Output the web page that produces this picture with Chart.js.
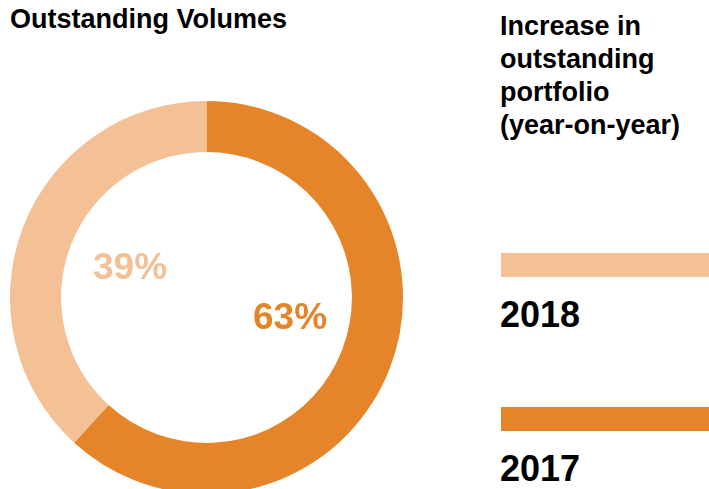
<!DOCTYPE html>
<html>
<head>
<meta charset="utf-8">
<script src="https://cdn.jsdelivr.net/npm/chart.js@4/dist/chart.umd.min.js"></script>
<style>
  html, body { margin: 0; padding: 0; background: #fff; }
  body { width: 709px; height: 489px; overflow: hidden; position: relative;
         font-family: "Liberation Sans", Arial, Helvetica, sans-serif; font-weight: bold; color: #000; }
  #title { position: absolute; left: 10px; top: 4px; font-size: 27px; line-height: 30px; white-space: nowrap; }
  #side-title { position: absolute; left: 500px; top: 10px; font-size: 27px; line-height: 33px; white-space: nowrap; }
  #donut { position: absolute; left: 10px; top: 101px; }
  .swatch { position: absolute; left: 501px; width: 208px; height: 24px; }
  .year { position: absolute; left: 500px; font-size: 36px; line-height: 40px; }
</style>
</head>
<body>
<div id="title">Outstanding Volumes</div>
<div id="side-title">Increase in<br>outstanding<br>portfolio<br>(year-on-year)</div>
<canvas id="donut" width="393" height="393"></canvas>
<div id="legend"></div>

<script>
// data
var years = ['2017', '2018'];
var shares = [63, 39];
var colors = ['#E58428', '#F3C195'];

// legend order top to bottom
var legendOrder = [1, 0];
var legendTops = [253, 407];

// draw the legend (bar + year) from the arrays
var legend = document.getElementById('legend');
legendOrder.forEach(function (idx, i) {
    var sw = document.createElement('div');
    sw.className = 'swatch';
    sw.style.top = legendTops[i] + 'px';
    sw.style.background = colors[idx];
    legend.appendChild(sw);

    var yr = document.createElement('div');
    yr.className = 'year';
    yr.style.top = (legendTops[i] + 42) + 'px';
    yr.textContent = years[idx];
    legend.appendChild(yr);
});

// percent labels inside the hole, offset from the centre of the donut
var pctLabels = {
    id: 'pctLabels',
    afterDatasetsDraw: function (chart, args, opts) {
        var ctx = chart.ctx;
        var meta = chart.getDatasetMeta(0);
        ctx.save();
        ctx.font = 'bold 37px "Liberation Sans", Arial, sans-serif';
        ctx.textAlign = 'center';
        ctx.textBaseline = 'alphabetic';
        meta.data.forEach(function (arc, i) {
            var off = opts.offsets[i];
            ctx.fillStyle = colors[i];
            ctx.fillText(shares[i] + '%', arc.x + off[0], arc.y + off[1]);
        });
        ctx.restore();
    }
};

var donut = new Chart(document.getElementById('donut'), {
    type: 'doughnut',
    data: {
        labels: years,
        datasets: [{
            data: shares,
            backgroundColor: colors,
            borderWidth: 0
        }]
    },
    options: {
        responsive: false,
        animation: false,
        cutout: '74%',
        layout: { padding: 0 },
        plugins: {
            legend: { display: false },
            tooltip: { enabled: false },
            pctLabels: { offsets: [[83.5, 31], [-76.5, -19]] }
        }
    },
    plugins: [pctLabels]
});
</script>
</body>
</html>
